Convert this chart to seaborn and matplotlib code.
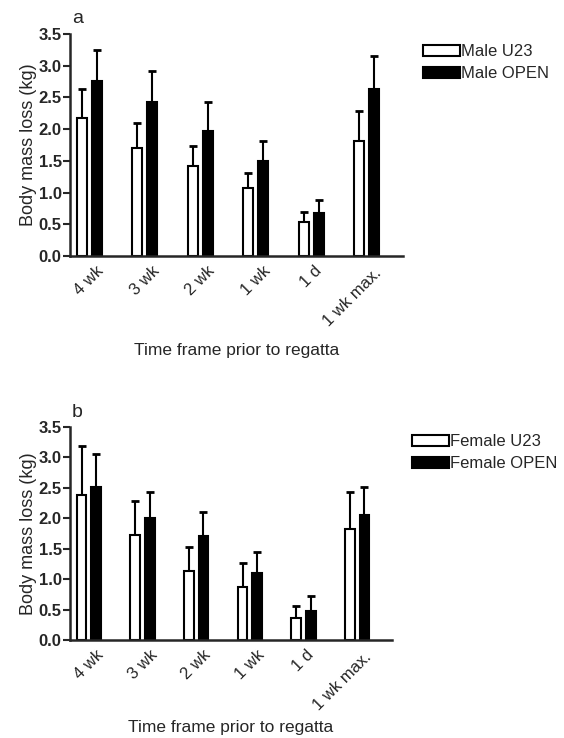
import numpy as np
import pandas as pd
import matplotlib
matplotlib.use("Agg")
import matplotlib.pyplot as plt
import matplotlib.transforms as mtransforms
import seaborn as sns
from matplotlib.patches import Patch

categories = ["4 wk", "3 wk", "2 wk", "1 wk", "1 d", "1 wk max."]

male_u23_mean = [2.17, 1.70, 1.42, 1.07, 0.53, 1.81]
male_u23_sd = [0.47, 0.39, 0.32, 0.24, 0.16, 0.48]
male_open_mean = [2.76, 2.43, 1.97, 1.49, 0.68, 2.63]
male_open_sd = [0.49, 0.49, 0.46, 0.33, 0.20, 0.53]

female_u23_mean = [2.38, 1.73, 1.13, 0.87, 0.36, 1.83]
female_u23_sd = [0.81, 0.55, 0.40, 0.40, 0.20, 0.60]
female_open_mean = [2.51, 2.01, 1.71, 1.10, 0.48, 2.06]
female_open_sd = [0.55, 0.42, 0.40, 0.34, 0.24, 0.46]

y_ticks = [0.0, 0.5, 1.0, 1.5, 2.0, 2.5, 3.0, 3.5]

sns.set_style("ticks")
plt.rcParams["font.family"] = ["Liberation Sans", "DejaVu Sans"]

W, H = 564, 738
fig = plt.figure(figsize=(W / 100, H / 100), dpi=100)


def axes_px(l, r, t, b):
    return fig.add_axes([l / W, 1 - b / H, (r - l) / W, (b - t) / H])


def panel(ax, labels, m1, s1, m2, s2, letter, leg_xy, xlab_y):
    df = pd.DataFrame({
        "time": categories * 2,
        "loss": m1 + m2,
        "group": [labels[0]] * len(categories) + [labels[1]] * len(categories),
    })
    sns.barplot(data=df, x="time", y="loss", hue="group",
                palette=["white", "black"], edgecolor="black", linewidth=1.5,
                width=0.54, gap=0.33, errorbar=None, legend=False, ax=ax,
                saturation=1)
    for cont, sds in zip(ax.containers, [s1, s2]):
        xs = [p.get_x() + p.get_width() / 2 for p in cont.patches]
        hs = [p.get_height() for p in cont.patches]
        ax.errorbar(xs, hs, yerr=[np.zeros(len(sds)), sds], fmt="none",
                    ecolor="black", elinewidth=1.5, capsize=2.8, capthick=2,
                    zorder=0)
    ax.set_xlim(-0.35, 5.65)
    ax.set_ylim(0, 3.5)
    ax.set_yticks(y_ticks)
    ax.set_yticklabels([f"{v:.1f}" for v in y_ticks], fontweight="bold",
                       fontsize=12)
    ax.tick_params(axis="y", length=5, width=1.5, pad=1)
    ax.tick_params(axis="x", length=0, pad=5)
    ax.set_xticks(range(len(categories)))
    tls = ax.set_xticklabels(categories, rotation=45, fontsize=12)
    shift = mtransforms.ScaledTranslation(-15 / 100, -3 / 100,
                                          fig.dpi_scale_trans)
    tls[-1].set_transform(tls[-1].get_transform() + shift)
    ax.set_ylabel("Body mass loss (kg)", fontsize=13, labelpad=1)
    ax.set_xlabel("Time frame prior to regatta", fontsize=12.5)
    ax.xaxis.set_label_coords(0.5, xlab_y)
    sns.despine(ax=ax)
    for s in ["left", "bottom"]:
        ax.spines[s].set_linewidth(1.8)
    ax.text(0.005, 1.03, letter, transform=ax.transAxes, fontsize=14,
            ha="left", va="bottom")
    handles = [Patch(facecolor="white", edgecolor="black", linewidth=1.5),
               Patch(facecolor="black", edgecolor="black", linewidth=1.5)]
    fig.legend(handles, labels, loc="upper left",
               bbox_to_anchor=(leg_xy[0] / W, 1 - leg_xy[1] / H),
               frameon=False, fontsize=12, handlelength=2.2,
               handleheight=0.65, handletextpad=0.1, borderpad=0,
               borderaxespad=0, labelspacing=0.45)


ax1 = axes_px(70, 403, 34, 256)
panel(ax1, ["Male U23", "Male OPEN"], male_u23_mean, male_u23_sd,
      male_open_mean, male_open_sd, "a", (423, 44), -0.39)

ax2 = axes_px(70, 392, 427, 640)
panel(ax2, ["Female U23", "Female OPEN"], female_u23_mean, female_u23_sd,
      female_open_mean, female_open_sd, "b", (412, 434), -0.375)

fig.savefig("out.png", dpi=100)
